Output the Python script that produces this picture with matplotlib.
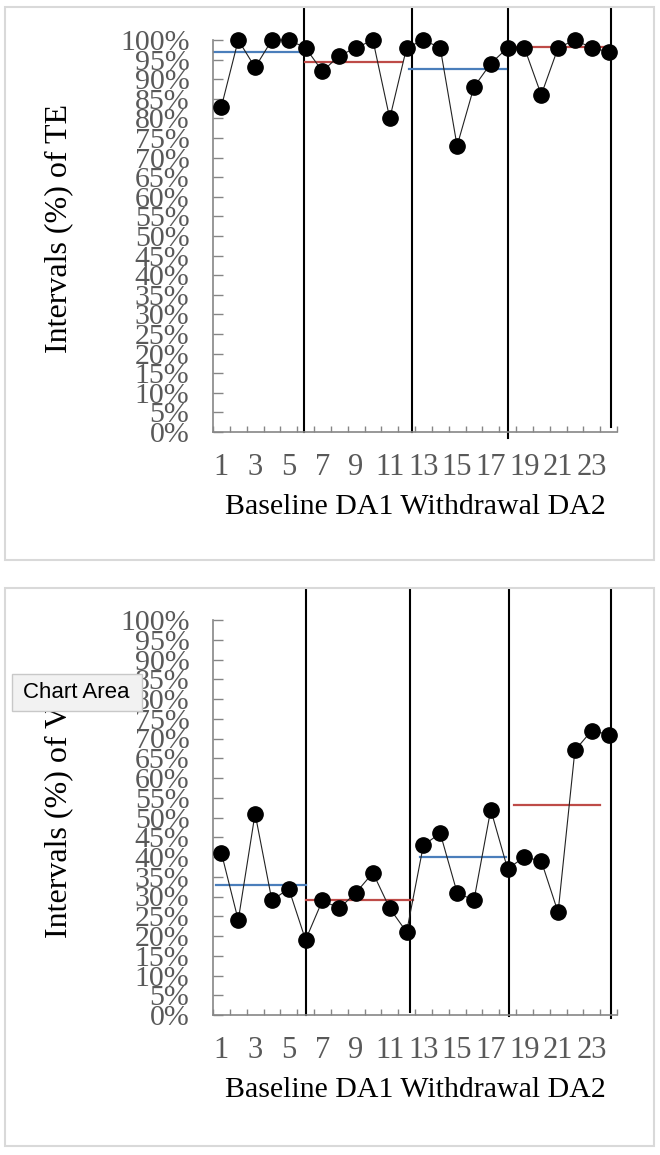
import matplotlib
matplotlib.use('Agg')
import matplotlib.pyplot as plt
from matplotlib.patches import Rectangle
from matplotlib.ticker import PercentFormatter, FixedLocator
import numpy as np

plt.rcParams['font.family'] = ['Liberation Serif', 'DejaVu Serif']

# sessions 1..24
sessions = list(range(1, 25))
x_tick_labels = [1, 3, 5, 7, 9, 11, 13, 15, 17, 19, 21, 23]
phase_label = 'Baseline DA1 Withdrawal DA2'

# TE panel (percent of intervals)
te_pct = [83, 100, 93, 100, 100, 98, 92, 96, 98, 100, 80, 98,
          100, 98, 73, 88, 94, 98, 98, 86, 98, 100, 98, 97]
te_means = [97, 94.5, 92.5, 98.1]
te_mean_spans = [(0.5, 5.9), (5.97, 11.73), (12.15, 17.9), (17.97, 24.27)]
te_phase_x = [5.9, 12.3, 18.0, 24.15]
te_phase_bottom = [0, 0, -1.5, 1.2]

# VO panel
vo_pct = [41, 24, 51, 29, 32, 19, 29, 27, 31, 36, 27, 21,
          43, 46, 31, 29, 52, 37, 40, 39, 26, 67, 72, 71]
vo_means = [33, 29, 40, 53.2]
vo_mean_spans = [(0.68, 6.03), (6.03, 12.38), (12.8, 17.9), (18.38, 23.5)]
vo_phase_x = [6.0, 12.2, 18.1, 24.15]
vo_phase_bottom = [0, 0.8, -0.3, -0.8]

mean_colors = ['#4a7ebb', '#be4b48', '#4a7ebb', '#be4b48']
grey = '#868686'
W, H = 660, 1155

fig = plt.figure(figsize=(W / 100, H / 100), dpi=100)


def box(x0, y0, x1, y1):
    # panel frame, pixel coords from top-left
    fig.patches.append(Rectangle((x0 / W, 1 - y1 / H), (x1 - x0) / W, (y1 - y0) / H,
                                 transform=fig.transFigure, fill=False,
                                 edgecolor='#d9d9d9', lw=1.5))


def draw_panel(ax, values, means, spans, phase_x, phase_bottom, phase_top, ylabel):
    ax.set_xlim(0.5, 24.5)
    ax.set_ylim(0, 1)
    for x, yb in zip(phase_x, phase_bottom):
        ax.plot([x, x], [yb / 100, phase_top], color='black', lw=1.5,
                clip_on=False, zorder=1)
    for m, (x0, x1), c in zip(means, spans, mean_colors):
        ax.plot([x0, x1], [m / 100, m / 100], color=c, lw=1.6, zorder=2)
    ax.plot(sessions, np.array(values) / 100, color='#222222', lw=0.8,
            marker='o', ms=11, mfc='black', mec='black', zorder=3, clip_on=False)

    for s in ['top', 'right']:
        ax.spines[s].set_visible(False)
    for s in ['left', 'bottom']:
        ax.spines[s].set_color(grey)
        ax.spines[s].set_linewidth(1.2)

    ax.yaxis.set_major_locator(FixedLocator(np.arange(0, 1.001, 0.05)))
    ax.yaxis.set_major_formatter(PercentFormatter(1, decimals=0))
    ax.tick_params(axis='y', direction='in', length=7, width=1, color=grey,
                   labelsize=21.5, labelcolor='#595959', pad=17)

    ax.set_xticks(x_tick_labels)
    ax.set_xticklabels([str(v) for v in x_tick_labels])
    ax.set_xticks(np.arange(0.5, 25, 1), minor=True)
    ax.tick_params(axis='x', which='major', length=0, labelsize=22,
                   labelcolor='#595959', pad=15)
    ax.tick_params(axis='x', which='minor', direction='in', length=4,
                   width=1, color=grey)

    ax.set_xlabel(phase_label, fontsize=21.5, labelpad=9)
    ax.set_ylabel(ylabel, fontsize=23)
    ax.yaxis.set_label_coords(-0.345, 0.52)


box(5, 7, 654, 560)
box(5, 588, 654, 1146)

ax1 = fig.add_axes([213 / W, 1 - 432 / H, 404 / W, 392 / H])
draw_panel(ax1, te_pct, te_means, te_mean_spans, te_phase_x, te_phase_bottom, 1.082,
           'Intervals (%) of TE')

ax2 = fig.add_axes([213 / W, 1 - 1015 / H, 404 / W, 395 / H])
draw_panel(ax2, vo_pct, vo_means, vo_mean_spans, vo_phase_x, vo_phase_bottom, 1.078,
           'Intervals (%) of VO')

# hover tooltip captured in the screenshot
fig.patches.append(Rectangle((12 / W, 1 - 711 / H), 130 / W, 37 / H,
                             transform=fig.transFigure, facecolor='#f2f2f2',
                             edgecolor='#c8c8c8', lw=1, zorder=10))
fig.text(76 / W, 1 - 693 / H, 'Chart Area', fontsize=16, family='Liberation Sans',
         ha='center', va='center', color='black', zorder=11)

fig.savefig('out.png', dpi=100)
